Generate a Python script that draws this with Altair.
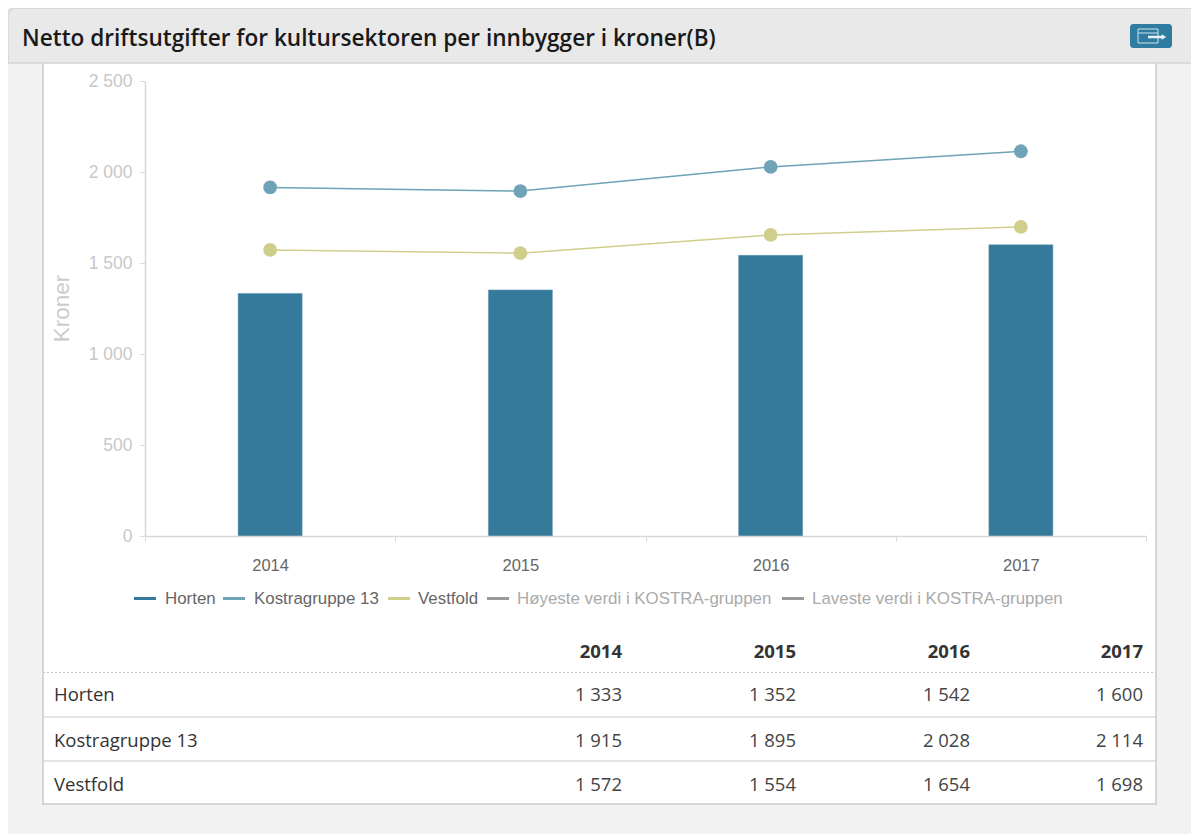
import altair as alt
import pandas as pd

years = ["2014", "2015", "2016", "2017"]
series_names = ["Horten", "Kostragruppe 13", "Vestfold"]
horten = [1333, 1352, 1542, 1600]
kostra = [1915, 1895, 2028, 2114]
vestfold = [1572, 1554, 1654, 1698]
legend_names = ["Horten", "Kostragruppe 13", "Vestfold",
                "Høyeste verdi i KOSTRA-gruppen", "Laveste verdi i KOSTRA-gruppen"]
title_text = "Netto driftsutgifter for kultursektoren per innbygger i kroner(B)"
y_ticks = [0, 500, 1000, 1500, 2000, 2500]

BAR, KOS, VES, GREY = "#357a9b", "#6fa3b7", "#cfcf8b", "#999999"
OX, OY = 145, 81
SANS = "Liberation Sans"
OPEN = "Open Sans"


def fmt(v):
    return f"{v:,}".replace(",", " ")


one = alt.Data(values=[{"a": 1}])


def box(x0, y0, x1, y1, **kw):
    return alt.Chart(one).mark_rect(**kw).encode(
        x=alt.value(x0 - OX), x2=alt.value(x1 - OX),
        y=alt.value(y0 - OY), y2=alt.value(y1 - OY))


def seg(x0, y0, x1, y1, **kw):
    return alt.Chart(one).mark_rule(**kw).encode(
        x=alt.value(x0 - OX), x2=alt.value(x1 - OX),
        y=alt.value(y0 - OY), y2=alt.value(y1 - OY))


def label(t, x, y, **kw):
    return alt.Chart(alt.Data(values=[{"t": t}])).mark_text(baseline="middle", **kw).encode(
        x=alt.value(x - OX), y=alt.value(y - OY), text="t:N")


layers = [
    box(8, 8, 1199, 834, fill="#f2f2f2"),
    box(43, 60, 1156, 804, fill="#ffffff", stroke="#cccccc", strokeWidth=1.5),
    box(8, 8, 1199, 63, fill="#e9e9e9", stroke="#d4d4d4", strokeWidth=1.5,
        cornerRadiusTopLeft=7, cornerRadiusTopRight=7),
    label(title_text, 22, 38.5, align="left", font=OPEN, fontSize=22.6, fontWeight=600, color="#1a1a1a"),
    box(1130, 24, 1172, 48, fill="#2f7ca3", cornerRadius=3),
    box(1138, 29, 1158, 43, stroke="#cfe3ec", strokeWidth=1, fillOpacity=0),
    seg(1138, 33, 1158, 33, color="#cfe3ec", strokeWidth=1),
    seg(1148, 37, 1163, 37, color="#e8f2f6", strokeWidth=2.5),
    alt.Chart(one).mark_point(shape="triangle-right", filled=True, size=30, color="#e8f2f6", opacity=1).encode(
        x=alt.value(1164 - OX), y=alt.value(37 - OY)),
]

df = pd.DataFrame({"year": years, "Horten": horten, "Kostra": kostra, "Vestfold": vestfold})
xenc = alt.X("year:N", sort=years, title=None,
             scale=alt.Scale(paddingInner=0, paddingOuter=0),
             axis=alt.Axis(labelAngle=0, labelFont=SANS, labelFontSize=16.5, labelColor="#666666",
                           labelPadding=16, domainColor="#d8d8d8", domainWidth=1.5, tickColor="#d8d8d8",
                           tickWidth=1, tickSize=5, tickBand="extent", grid=False, zindex=1))


def yenc(field):
    return alt.Y(f"{field}:Q", title="Kroner", scale=alt.Scale(domain=[0, 2500], nice=False),
                 axis=alt.Axis(values=y_ticks, grid=False, labelFont=SANS, labelFontSize=17.5,
                               labelColor="#c8c8c8", labelPadding=8, domainColor="#d8d8d8",
                               domainWidth=1.5, tickColor="#d8d8d8", tickWidth=1, tickSize=5,
                               labelExpr="replace(format(datum.value, ','), ',', ' ')",
                               titleFont=SANS, titleFontSize=22.5, titleFontWeight="normal",
                               titleColor="#cccccc", titleX=-72, titleY=227, zindex=1))


base = alt.Chart(df)
layers.append(base.mark_bar(color=BAR, size=64, stroke="#5d93ab", strokeWidth=0.5).encode(x=xenc, y=yenc("Horten")))
for field, col in [("Kostra", KOS), ("Vestfold", VES)]:
    layers.append(base.mark_line(color=col, strokeWidth=1.5).encode(x=xenc, y=yenc(field)))
    layers.append(base.mark_point(color=col, filled=True, size=190, opacity=1).encode(x=xenc, y=yenc(field)))

leg_x = [(134, 156, 165), (223, 245, 254), (388, 410, 418), (487, 509, 517), (782, 804, 812)]
leg_col = [BAR, KOS, VES, GREY, GREY]
leg_txt = ["#666666", "#666666", "#666666", "#aaaaaa", "#aaaaaa"]
for name, (a, b, c), col, tc in zip(legend_names, leg_x, leg_col, leg_txt):
    layers.append(seg(a, 598.5, b, 598.5, color=col, strokeWidth=3))
    layers.append(label(name, c, 599, align="left", font=SANS, fontSize=16.9, color=tc))

col_x = [622, 796, 970, 1143]
for y_txt, x in zip(years, col_x):
    layers.append(label(y_txt, x, 652, align="right", font=OPEN, fontSize=18.5, fontWeight=700, color="#333333"))
layers.append(seg(43, 672.5, 1156, 672.5, color="#c4c4c4", strokeWidth=1, strokeDash=[2, 2]))
layers.append(seg(43, 717, 1156, 717, color="#cccccc", strokeWidth=1.2))
layers.append(seg(43, 761, 1156, 761, color="#cccccc", strokeWidth=1.2))

for name, vals, y in zip(series_names, [horten, kostra, vestfold], [695, 740.5, 784.5]):
    layers.append(label(name, 54, y, align="left", font=OPEN, fontSize=18.5, color="#333333"))
    for v, x in zip(vals, col_x):
        layers.append(label(fmt(v), x, y, align="right", font=OPEN, fontSize=18.5, color="#444444"))

chart = alt.layer(*layers).properties(
    width=1001, height=455,
    padding={"left": 137, "top": 73, "right": 45, "bottom": 298},
    autosize=alt.AutoSizeParams(type="none"),
    background="#ffffff",
).configure_view(stroke=None)

chart.save("out.html", embed_options={"renderer": "svg", "actions": False})
